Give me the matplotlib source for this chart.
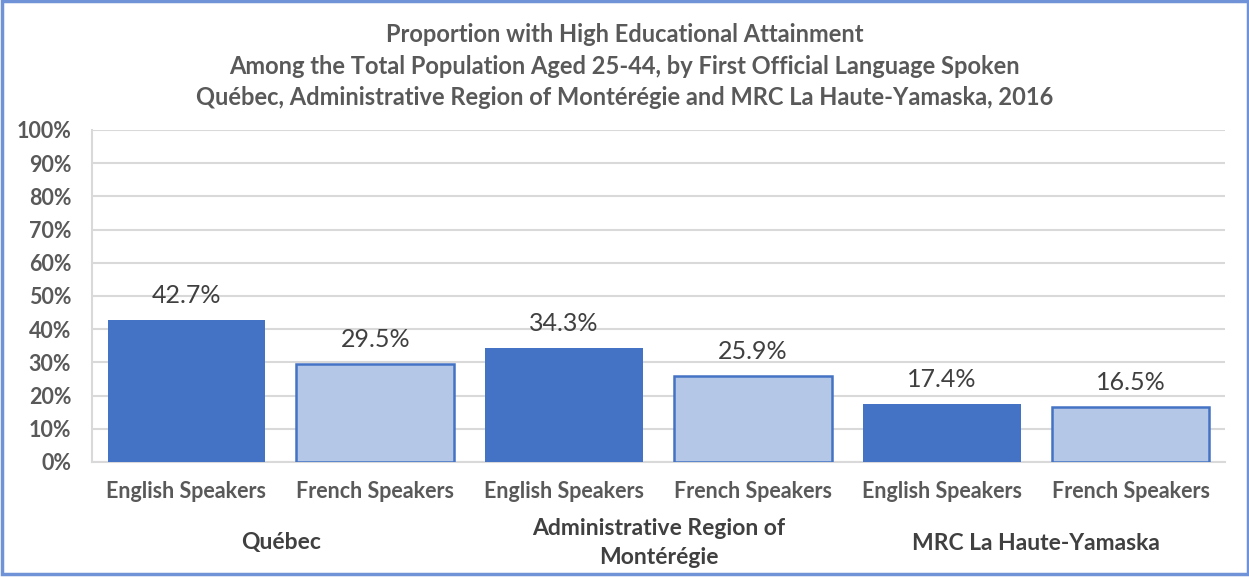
import matplotlib
matplotlib.use("Agg")
import matplotlib.pyplot as plt
from matplotlib.patches import Rectangle
from matplotlib.ticker import FuncFormatter
from matplotlib.transforms import blended_transform_factory

plt.rcParams["font.family"] = ["Lato", "DejaVu Sans"]

speakers = ["English Speakers", "French Speakers"] * 3
groups = ["Québec", "Administrative Region of\nMontérégie", "MRC La Haute-Yamaska"]
values = [42.7, 29.5, 34.3, 25.9, 17.4, 16.5]
fills = ["#4472c4", "#b4c7e7"] * 3
edges = ["#4472c4", "#4472c4"] * 3
title = ("Proportion with High Educational Attainment\n"
         "Among the Total Population Aged 25-44, by First Official Language Spoken\n"
         "Québec, Administrative Region of Montérégie and MRC La Haute-Yamaska, 2016")

W, H = 1249, 577
fig = plt.figure(figsize=(W / 100, H / 100), dpi=100)
ax = fig.add_axes([92 / W, 1 - 462 / H, (1225 - 92) / W, (462 - 130) / H])

x = list(range(len(values)))
bars = ax.bar(x, values, width=0.835, color=fills, edgecolor=edges,
              linewidth=[0, 1.8] * 3, zorder=3)
for b, v in zip(bars, values):
    ax.text(b.get_x() + b.get_width() / 2, v + 4, f"{v:.1f}%", ha="center",
            va="bottom", fontsize=18, color="#404040")

ax.set_xlim(-0.5, len(values) - 0.5)
ax.set_ylim(0, 100)
ax.set_yticks(range(0, 101, 10))
ax.yaxis.set_major_formatter(FuncFormatter(lambda v, _: f"{v:.0f}%"))
ax.grid(axis="y", color="#d9d9d9", linewidth=1.5, zorder=0)
for s in ["top", "right"]:
    ax.spines[s].set_visible(False)
for s in ["left", "bottom"]:
    ax.spines[s].set_color("#d9d9d9")
    ax.spines[s].set_linewidth(1.5)
ax.tick_params(axis="y", length=0, pad=15, labelsize=15.5, labelcolor="#595959")
for lab in ax.get_yticklabels():
    lab.set_fontweight("bold")
ax.set_xticks(x)
ax.set_xticklabels(speakers, fontsize=15.5, color="#595959", fontweight="bold")
ax.tick_params(axis="x", length=0, pad=14)

trans = blended_transform_factory(ax.transData, fig.transFigure)
for i, g in enumerate(groups):
    ax.text(2 * i + 0.5, 1 - 543 / H, g, ha="center", va="center", fontsize=16.5,
            fontweight="bold", color="#404040", linespacing=1.45,
            transform=trans, clip_on=False)

fig.text(0.5, 1 - 66 / H, title, ha="center", va="center", fontsize=17,
         fontweight="bold", color="#595959", linespacing=1.45)

fig.patches.append(Rectangle((1.5 / W, 3 / H), 1 - 3 / W, 1 - 4 / H,
                             transform=fig.transFigure, fill=False,
                             edgecolor="#6f93d6", linewidth=2.5))

fig.savefig("out.png", dpi=100)
